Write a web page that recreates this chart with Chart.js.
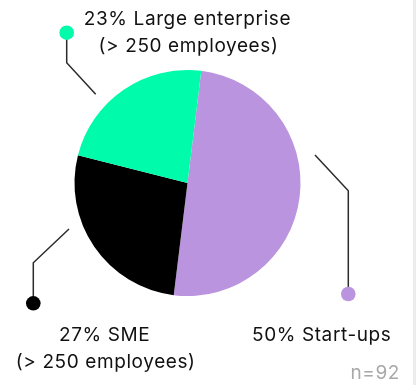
<!DOCTYPE html>
<html>
<head>
  <title>Company size</title>
  <script src="https://cdn.jsdelivr.net/npm/chart.js"></script>
  <style>
    body { margin: 0; background: #fff; }
    #wrap { width: 413px; height: 385px; border-right: 3px solid #ececec; }
    canvas { display: block; }
  </style>
</head>
<body>
  <div id="wrap"><canvas id="myChart" width="413" height="385"></canvas></div>

  <script>
    // respondents by company size (clockwise from the top)
    const categories = ['Start-ups', 'SME', 'Large enterprise'];
    const subLabels = ['', '(> 250 employees)', '(> 250 employees)'];
    const shares = [50, 27, 23];
    const colors = ['#ba94de', '#000000', '#00fbaa'];
    const sampleSize = 92;

    const FONT = '19px Inter, "Liberation Sans", sans-serif';

    // leader lines: start near the rim, elbow, then a dot (offsets from pie centre)
    // and where the two text lines go
    const callouts = [
      { start: [127.5, -28], elbow: [160.8, 7.7], dot: [160.8, 111], text: [134.2, 152] },
      { start: [-118.5, 46], elbow: [-154.2, 79.7], dot: [-154.2, 120.3], text: [-82.8, 152] },
      { start: [-91.8, -88.7], elbow: [-120.8, -120.3], dot: [-120.8, -150.3], text: [0, -164] }
    ];

    const calloutPlugin = {
      id: 'callouts',
      afterDraw(chart) {
        const ctx = chart.ctx;
        const arc = chart.getDatasetMeta(0).data[0];
        const cx = arc.x, cy = arc.y;
        ctx.save();
        callouts.forEach((c, i) => {
          ctx.strokeStyle = '#2b2b2b';
          ctx.lineWidth = 1.5;
          ctx.beginPath();
          ctx.moveTo(cx + c.start[0], cy + c.start[1]);
          ctx.lineTo(cx + c.elbow[0], cy + c.elbow[1]);
          ctx.lineTo(cx + c.dot[0], cy + c.dot[1]);
          ctx.stroke();
          ctx.fillStyle = colors[i];
          ctx.beginPath();
          ctx.arc(cx + c.dot[0], cy + c.dot[1], 7.3, 0, Math.PI * 2);
          ctx.fill();

          ctx.fillStyle = '#111';
          ctx.font = FONT;
          ctx.letterSpacing = '0.6px';
          ctx.textAlign = 'center';
          ctx.textBaseline = 'middle';
          const tx = cx + c.text[0], ty = cy + c.text[1];
          ctx.fillText(shares[i] + '% ' + categories[i], tx, ty);
          if (subLabels[i]) ctx.fillText(subLabels[i], tx + 1, ty + 27);
        });
        ctx.fillStyle = '#a8a8a8';
        ctx.textAlign = 'right';
        ctx.fillText('n=' + sampleSize, 400, 373);
        ctx.restore();
      }
    };

    const ctx = document.getElementById('myChart').getContext('2d');
    const myChart = new Chart(ctx, {
      type: 'pie',
      data: {
        labels: categories,
        datasets: [{
          data: shares,
          backgroundColor: colors,
          borderWidth: 0
        }]
      },
      options: {
        responsive: false,
        animation: false,
        rotation: 7,
        layout: { padding: { left: 74.5, right: 112.5, top: 70, bottom: 89 } },
        plugins: {
          legend: { display: false },
          tooltip: { enabled: false }
        }
      },
      plugins: [calloutPlugin]
    });
  </script>
</body>
</html>
